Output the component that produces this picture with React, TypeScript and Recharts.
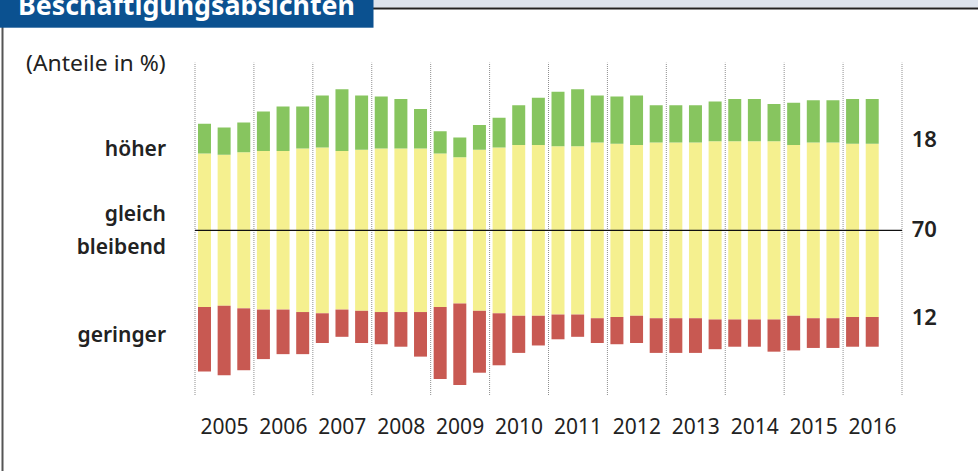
import { BarChart, Bar, XAxis, YAxis, ReferenceLine, LabelList } from "recharts";

/* ---------- DATA ---------- */
// three survey waves per year, 2016 has only two so far
const YEARS = [
  "2005", "2006", "2007", "2008", "2009", "2010",
  "2011", "2012", "2013", "2014", "2015", "2016",
];
const PER_YEAR = 3;

// Anteile in % – höher / gleich bleibend / geringer
const HOEHER = [
  12, 11, 12, 16, 18, 17, 21, 25, 22, 21, 20, 16, 9, 8, 10, 12, 16, 19,
  22, 23, 19, 19, 20, 15, 15, 15, 16, 17, 17, 15, 17, 17, 17, 18, 18,
];
const GLEICH = [
  62, 61, 63, 64, 64, 66, 67, 64, 65, 66, 66, 66, 62, 59, 65, 67, 69, 69,
  68, 68, 71, 70, 69, 71, 71, 71, 72, 72, 72, 72, 69, 71, 71, 70, 70,
];
const GERINGER = [
  26, 28, 25, 20, 18, 17, 12, 11, 13, 13, 14, 18, 29, 33, 25, 21, 15, 12,
  10, 9, 10, 11, 11, 14, 14, 14, 12, 11, 11, 13, 14, 12, 12, 12, 12,
];

const SIDE_LABELS = [["höher"], ["gleich", "bleibend"], ["geringer"]];

/* ---------- STYLE ---------- */
const COLORS = {
  hoeher: "#87c55f",
  gleich: "#f5f08f",
  geringer: "#c85952",
  title: "#0b5190",
  text: "#222222",
  grid: "#8f8f8f",
};
const FONT = "'Noto Sans', 'DejaVu Sans', sans-serif";

/* ---------- DERIVED ---------- */
const LAST = HOEHER.length - 1;
const SLOTS = YEARS.length * PER_YEAR;

// yellow is split in two halves so it sits centred on the zero line
const chartData = HOEHER.map((h, i) => ({
  x: i + 0.5,
  up: GLEICH[i] / 2,
  hoeher: h,
  down: -GLEICH[i] / 2,
  geringer: -GERINGER[i],
}));

const yearTicks = YEARS.map((_, k) => k * PER_YEAR + PER_YEAR / 2);
const yearLines = Array.from({ length: YEARS.length + 1 }, (_, k) => k * PER_YEAR);

/* ---------- TICKS / LABELS ---------- */
function SideTick(props: any) {
  const { x, y, index } = props;
  const lines = SIDE_LABELS[index] ?? [];
  const lh = 33.3;
  const first = y + 7.4 - ((lines.length - 1) * lh) / 2;
  return (
    <g>
      {lines.map((t: string, i: number) => (
        <text
          key={t}
          x={x}
          y={first + i * lh}
          textAnchor="end"
          fontFamily={FONT}
          fontSize={21}
          fontWeight={600}
          fill={COLORS.text}
        >
          {t}
        </text>
      ))}
    </g>
  );
}

function lastValueLabel(text: number, pick: (top: number, bottom: number) => number) {
  return (p: any) => {
    if (p.index !== LAST) return null;
    const vb = p.viewBox ?? p;
    const top = Math.min(vb.y, vb.y + vb.height);
    const bottom = Math.max(vb.y, vb.y + vb.height);
    return (
      <text
        x={vb.x + vb.width + 33}
        y={pick(top, bottom)}
        dy="0.36em"
        fontFamily={FONT}
        fontSize={22}
        fontWeight={600}
        fill={COLORS.text}
      >
        {text}
      </text>
    );
  };
}

/* ---------- COMPONENT ---------- */
export default function App() {
  return (
    <div
      style={{
        position: "absolute",
        left: 0,
        top: 0,
        width: 978,
        height: 471,
        background: "#fff",
        overflow: "hidden",
      }}
    >
      <BarChart
        width={978}
        height={471}
        data={chartData}
        stackOffset="sign"
        margin={{ top: 62.7, right: 76, bottom: 36, left: 0 }}
      >
        <XAxis
          type="number"
          dataKey="x"
          domain={[0, SLOTS]}
          ticks={yearTicks}
          interval={0}
          tickFormatter={(v) => YEARS[Math.floor(Number(v) / PER_YEAR)]}
          axisLine={false}
          tickLine={false}
          tickSize={0}
          tickMargin={24.5}
          height={40}
          tick={{ fontSize: 21, fill: COLORS.text, fontFamily: FONT }}
        />
        <YAxis
          type="number"
          domain={[-66.5, 67.7]}
          allowDataOverflow
          ticks={[33, 0, -42]}
          interval={0}
          width={195}
          axisLine={false}
          tickLine={false}
          tickSize={0}
          tickMargin={29}
          tick={<SideTick />}
        />

        {/* year separators */}
        {yearLines.map((v) => (
          <ReferenceLine
            key={v}
            x={v}
            stroke={COLORS.grid}
            strokeDasharray="1 1"
            strokeWidth={1}
          />
        ))}

        <Bar dataKey="up" stackId="s" fill={COLORS.gleich} barSize={13} isAnimationActive={false}>
          <LabelList content={lastValueLabel(GLEICH[LAST], (_t, b) => b - 1.5)} />
        </Bar>
        <Bar dataKey="hoeher" stackId="s" fill={COLORS.hoeher} barSize={13} isAnimationActive={false}>
          <LabelList content={lastValueLabel(HOEHER[LAST], (_t, b) => b - 4.6)} />
        </Bar>
        <Bar dataKey="down" stackId="s" fill={COLORS.gleich} barSize={13} isAnimationActive={false} />
        <Bar dataKey="geringer" stackId="s" fill={COLORS.geringer} barSize={13} isAnimationActive={false}>
          <LabelList content={lastValueLabel(GERINGER[LAST], (t) => t)} />
        </Bar>

        <ReferenceLine y={0} stroke="#111" strokeWidth={1.2} />
      </BarChart>

      {/* frame + title */}
      <svg
        width={978}
        height={471}
        style={{ position: "absolute", left: 0, top: 0, pointerEvents: "none" }}
      >
        <rect x={373} y={0} width={605} height={7.5} fill="#dde3ec" />
        <line x1={373} y1={8.5} x2={978} y2={8.5} stroke="#222" strokeWidth={2} />
        <line x1={2.5} y1={27} x2={2.5} y2={471} stroke="#555" strokeWidth={2} />
        <rect x={0} y={0} width={373.5} height={27.7} fill={COLORS.title} />
        <text
          x={18}
          y={14.7}
          fontFamily={FONT}
          fontSize={26}
          fontWeight={700}
          fill="#fff"
          textLength={337}
          lengthAdjust="spacingAndGlyphs"
        >
          Beschäftigungsabsichten
        </text>
        <text
          x={26}
          y={70.7}
          fontFamily={FONT}
          fontSize={21}
          fill={COLORS.text}
          textLength={139.7}
          lengthAdjust="spacingAndGlyphs"
        >
          (Anteile in %)
        </text>
      </svg>
    </div>
  );
}
